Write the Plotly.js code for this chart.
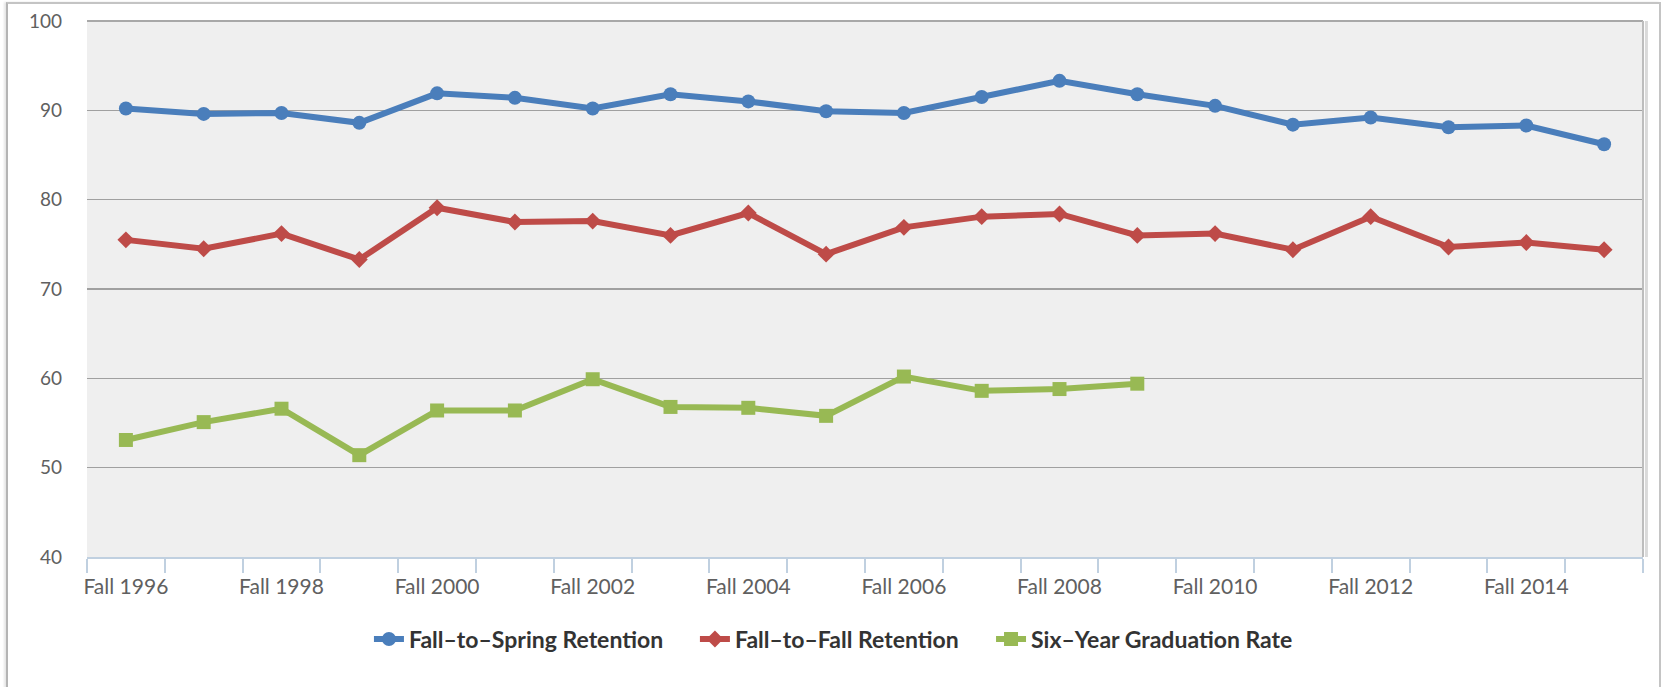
<!DOCTYPE html>
<html>
<head>
<meta charset="utf-8">
<script src="https://cdn.plot.ly/plotly-3.0.1.min.js"></script>
<style>
  html, body { margin: 0; padding: 0; background: #ffffff; }
  #wrap { position: relative; width: 1661px; height: 687px; overflow: hidden; }
  #frame { position: absolute; left: 6px; top: 2px; width: 1651px; height: 700px;
           border-left: 2px solid #b4b4b4; border-top: 2px solid #c4c4c4; border-right: 2px solid #c4c4c4;
           box-shadow: -2px 0 2px #e6e6e6; pointer-events: none; }
  #chart { position: absolute; left: 0; top: 0; width: 1661px; height: 687px; }
</style>
</head>
<body>
<div id="wrap">
  <div id="chart"></div>
  <div id="frame"></div>
</div>
<script>
const years = [1996, 1997, 1998, 1999, 2000, 2001, 2002, 2003, 2004, 2005,
               2006, 2007, 2008, 2009, 2010, 2011, 2012, 2013, 2014, 2015];
const tickYears = [1996, 1998, 2000, 2002, 2004, 2006, 2008, 2010, 2012, 2014];
const tickLabels = ["Fall 1996", "Fall 1998", "Fall 2000", "Fall 2002", "Fall 2004",
                    "Fall 2006", "Fall 2008", "Fall 2010", "Fall 2012", "Fall 2014"];
const fallToSpring = [90.2, 89.6, 89.7, 88.6, 91.9, 91.4, 90.2, 91.8, 91.0, 89.9,
                      89.7, 91.5, 93.3, 91.8, 90.5, 88.4, 89.2, 88.1, 88.3, 86.2];
const fallToFall = [75.5, 74.5, 76.2, 73.3, 79.1, 77.5, 77.6, 76.0, 78.5, 73.9,
                    76.9, 78.1, 78.4, 76.0, 76.2, 74.4, 78.1, 74.7, 75.2, 74.4];
const sixYearGrad = [53.1, 55.1, 56.6, 51.4, 56.4, 56.4, 59.9, 56.8, 56.7, 55.8,
                     60.2, 58.6, 58.8, 59.4, null, null, null, null, null, null];
const seriesNames = ["Fall\u2013to\u2013Spring Retention", "Fall\u2013to\u2013Fall Retention", "Six\u2013Year Graduation Rate"];

const traces = [
  { x: years, y: fallToSpring, name: seriesNames[0], type: "scatter", mode: "lines+markers",
    legend: "legend",
    line: { color: "#4A7EBB", width: 6 },
    marker: { symbol: "circle", size: 14, color: "#4A7EBB" } },
  { x: years, y: fallToFall, name: seriesNames[1], type: "scatter", mode: "lines+markers",
    legend: "legend2",
    line: { color: "#BE4B48", width: 6 },
    marker: { symbol: "diamond", size: 13, color: "#BE4B48" } },
  { x: years, y: sixYearGrad, name: seriesNames[2], type: "scatter", mode: "lines+markers",
    legend: "legend3",
    line: { color: "#98B954", width: 6 },
    marker: { symbol: "square", size: 14, color: "#98B954" } }
];

function legendAt(xPos) {
  return {
    orientation: "h",
    x: xPos, xanchor: "left",
    y: -0.153, yanchor: "middle",
    font: { size: 23, color: "#333333", weight: "bold", family: "Lato, 'Open Sans', sans-serif" },
    itemwidth: 30,
    bgcolor: "rgba(0,0,0,0)"
  };
}

const layout = {
  width: 1661, height: 687,
  margin: { l: 87, r: 18, t: 21, b: 130 },
  paper_bgcolor: "rgba(0,0,0,0)",
  plot_bgcolor: "#EFEFEF",
  font: { family: "Lato, 'Open Sans', sans-serif", color: "#606060" },
  showlegend: true,
  hovermode: false,
  xaxis: {
    type: "linear",
    range: [1995.5, 2015.5],
    tickmode: "array",
    tickvals: tickYears,
    ticktext: tickLabels,
    ticks: "",
    showgrid: false,
    zeroline: false,
    showline: true,
    linecolor: "#C0D0E0",
    linewidth: 2,
    tickfont: { size: 21, color: "#606060" },
    ticklabelstandoff: 10,
    minor: { tickmode: "linear", tick0: 1995.5, dtick: 1, ticks: "outside", ticklen: 14,
             tickcolor: "#C0D0E0", tickwidth: 2, showgrid: false }
  },
  yaxis: {
    range: [40, 100],
    tickmode: "linear", tick0: 40, dtick: 10,
    ticks: "",
    showgrid: true,
    gridcolor: "#A0A0A0",
    gridwidth: 1.5,
    zeroline: false,
    showline: false,
    tickfont: { size: 19, color: "#606060" },
    ticklabelstandoff: 24
  },
  legend: legendAt(0.1812),
  legend2: legendAt(0.3907),
  legend3: legendAt(0.581),
  shapes: [
    { type: "line", xref: "paper", yref: "paper", x0: 0, x1: 1, y0: 1, y1: 1,
      line: { color: "#A8A8A8", width: 2 } },
    { type: "line", xref: "paper", yref: "paper", x0: 1.0022, x1: 1.0022, y0: 0, y1: 1,
      line: { color: "#DADADA", width: 3 } },
    { type: "line", xref: "paper", yref: "paper", x0: 1, x1: 1, y0: 0, y1: 1,
      line: { color: "#BDBDBD", width: 2 } }
  ]
};

Plotly.newPlot("chart", traces, layout, { displayModeBar: false, staticPlot: true });
</script>
</body>
</html>
